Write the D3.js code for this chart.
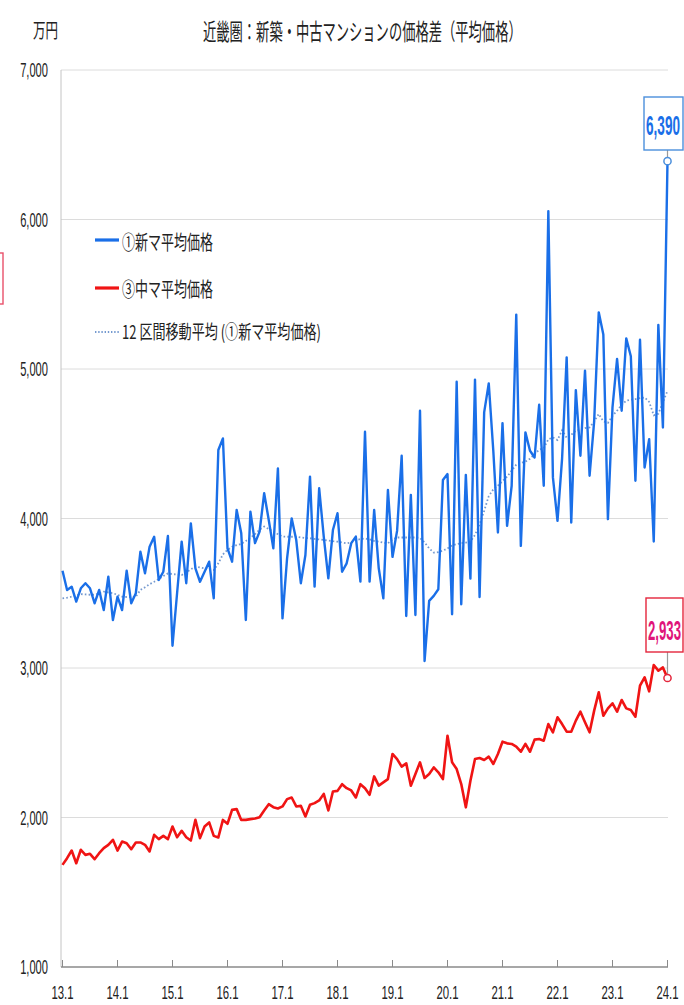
<!DOCTYPE html>
<html lang="ja">
<head>
<meta charset="utf-8">
<script src="https://cdn.jsdelivr.net/npm/d3@7"></script>
<style>
  html, body { margin: 0; padding: 0; background: #ffffff; }
  svg { display: block; }
  text { fill: #222222; }
</style>
</head>
<body>
<svg id="chart" width="684" height="1005"></svg>
<script>
// 近畿圏 新築・中古マンション 月次平均価格（万円）2013年1月〜2024年1月
const newPrice = [
  3651, 3522, 3544, 3444, 3533, 3567, 3533, 3433, 3522, 3388, 3611, 3321,
  3477, 3388, 3651, 3433, 3500, 3778, 3633, 3811, 3878, 3589, 3644, 3883,
  3149, 3500, 3845, 3567, 3967, 3666, 3577, 3644, 3711, 3466, 4458, 4536,
  3800, 3711, 4057, 3901, 3321, 4046, 3835, 3912, 4169, 3990, 3800, 4335,
  3332, 3734, 4001, 3856, 3567, 3756, 4280, 3544, 4202, 3879, 3600, 3923,
  4035, 3644, 3700, 3835, 3879, 3578, 4580, 3578, 4057, 3667, 3466, 4191,
  3743, 3917, 4420, 3348, 4158, 3355, 4721, 3047, 3449, 3482, 3527, 4257,
  4297, 3359, 4915, 3426, 4292, 3598, 4929, 3475, 4710, 4904, 4450, 3906,
  4638, 3951, 4219, 5364, 3817, 4576, 4453, 4408, 4761, 4219, 6056, 4275,
  3984, 4400, 5078, 3973, 4859, 4420, 4989, 4286, 4650, 5379, 5230, 3996,
  4743, 5067, 4721, 5205, 5085, 4252, 5196, 4341, 4531, 3846, 5295, 4609,
  6390
];

const usedPrice = [
  1683, 1728, 1779, 1694, 1784, 1750, 1757, 1721, 1761, 1795, 1817, 1851,
  1779, 1839, 1828, 1788, 1833, 1833, 1817, 1773, 1884, 1855, 1877, 1855,
  1940, 1868, 1911, 1868, 1846, 1984, 1862, 1940, 1967, 1877, 1866, 1984,
  1958, 2051, 2056, 1984, 1984, 1989, 1993, 2002, 2047, 2089, 2069, 2060,
  2074, 2123, 2134, 2074, 2078, 2007, 2085, 2096, 2114, 2158, 2047, 2174,
  2178, 2223, 2196, 2181, 2134, 2223, 2196, 2152, 2275, 2213, 2235, 2257,
  2425, 2391, 2340, 2362, 2213, 2291, 2369, 2264, 2291, 2335, 2302, 2257,
  2547, 2369, 2324, 2224, 2068, 2246, 2391, 2398, 2385, 2407, 2358, 2425,
  2507, 2496, 2492, 2474, 2440, 2492, 2440, 2521, 2525, 2514, 2625, 2570,
  2670, 2625, 2574, 2574, 2648, 2708, 2637, 2570, 2715, 2837, 2681, 2730,
  2764, 2708, 2786, 2730, 2719, 2674, 2882, 2938, 2844, 3020, 2982, 3004,
  2933
];

// 12区間移動平均（①新マ平均価格）
const movingAvg = [
  3466, 3470, 3477, 3485, 3494, 3492, 3490, 3490, 3500, 3511, 3505, 3500,
  3490, 3477, 3475, 3475, 3477, 3522, 3540, 3560, 3577, 3595, 3615, 3633,
  3628, 3625, 3622, 3640, 3660, 3678, 3672, 3666, 3660, 3655, 3700, 3760,
  3790, 3810, 3822, 3830, 3850, 3870, 3895, 3925, 3946, 3930, 3912, 3895,
  3879, 3878, 3878, 3878, 3873, 3870, 3868, 3863, 3860, 3856, 3852, 3848,
  3845, 3840, 3834, 3840, 3856, 3862, 3866, 3860, 3850, 3845, 3838, 3834,
  3860, 3873, 3873, 3873, 3873, 3873, 3870, 3840, 3800, 3772, 3775, 3785,
  3800, 3820, 3828, 3835, 3839, 3845, 3890, 3960, 4051, 4150, 4195, 4220,
  4250, 4280, 4320, 4360, 4372, 4380, 4400, 4430, 4460, 4470, 4530, 4542,
  4525, 4590, 4540, 4560, 4587, 4595, 4605, 4609, 4650, 4699, 4650, 4640,
  4687, 4721, 4760, 4788, 4795, 4799, 4805, 4810, 4780, 4690, 4700, 4777,
  4855
];

const yearLabels = ["13.1", "14.1", "15.1", "16.1", "17.1", "18.1",
                    "19.1", "20.1", "21.1", "22.1", "23.1", "24.1"];
const yTicks = [1000, 2000, 3000, 4000, 5000, 6000, 7000];

const chartTitle = "近畿圏：新築・中古マンションの価格差（平均価格）";
const unitLabel = "万円";
const legendItems = [
  { key: "new",  label: "①新マ平均価格" },
  { key: "used", label: "③中マ平均価格" },
  { key: "ma",   label: "12 区間移動平均 (①新マ平均価格)" }
];

// ---- layout & styles ----
const BLUE = "#1a6fe8";
const RED = "#f01414";
const MA_COL = "#7499cf";
const JP = "'Noto Sans CJK JP', 'Noto Sans', sans-serif";
const NUM = "'Liberation Sans', Arial, sans-serif";

const svg = d3.select("#chart");
const months = newPrice.map((_, i) => i);

const x = d3.scaleLinear().domain([0, months.length - 1]).range([62.5, 667.5]);
const y = d3.scaleLinear().domain([1000, 7000]).range([967, 70]);

// narrow text: squeeze horizontally around the anchor point
function narrowText(g, px, py, str, opt) {
  return g.append("text")
    .attr("transform", `translate(${px},${py}) scale(${opt.k},1)`)
    .attr("text-anchor", opt.anchor || "start")
    .style("font-family", opt.family || NUM)
    .style("font-size", opt.size + "px")
    .style("font-weight", opt.weight || 400)
    .text(str);
}

// text squeezed so that its rendered width equals `width`
function fitText(g, px, py, str, width, opt) {
  const t = g.append("text")
    .attr("text-anchor", opt.anchor || "start")
    .style("font-family", opt.family || JP)
    .style("font-size", opt.size + "px")
    .style("font-weight", opt.weight || 400)
    .text(str);
  if (opt.fill) t.style("fill", opt.fill);
  const natural = t.node().getComputedTextLength() || width;
  t.attr("transform", `translate(${px},${py}) scale(${width / natural},1)`);
  return t;
}

// gridlines
svg.append("g").selectAll("line").data(yTicks.filter(v => v > 1000)).join("line")
  .attr("x1", 61).attr("x2", 668)
  .attr("y1", d => y(d)).attr("y2", d => y(d))
  .attr("stroke", "#dcdcdc").attr("stroke-width", 1);

// y axis line
svg.append("line").attr("x1", 61).attr("x2", 61).attr("y1", y(7000)).attr("y2", y(1000))
  .attr("stroke", "#c4c4c4").attr("stroke-width", 1);

// x axis line with inward ticks
svg.append("line").attr("x1", 61).attr("x2", 668).attr("y1", y(1000)).attr("y2", y(1000))
  .attr("stroke", "#8a8a8a").attr("stroke-width", 1.3);
const tickIdx = yearLabels.map((_, k) => k * 12);
svg.append("g").selectAll("line").data(tickIdx).join("line")
  .attr("x1", d => x(d)).attr("x2", d => x(d))
  .attr("y1", y(1000)).attr("y2", y(1000) - 7)
  .attr("stroke", "#8a8a8a").attr("stroke-width", 1);

// y tick labels
const yLab = svg.append("g");
yTicks.forEach(v => narrowText(yLab, 48, y(v) + 7, d3.format(",")(v), { size: 21, k: 0.53, anchor: "end" }));

// x tick labels
const xLab = svg.append("g");
yearLabels.forEach((t, k) => narrowText(xLab, x(tickIdx[k]), 999, t, { size: 19, k: 0.6, anchor: "middle" }));

// title and unit
fitText(svg, 203, 40, chartTitle, 319, { size: 23 });
fitText(svg, 33, 38, unitLabel, 25, { size: 20 });

// series
const line = d3.line().x((d, i) => x(i)).y(d => y(d)).curve(d3.curveLinear);

svg.append("path").datum(movingAvg).attr("d", line)
  .attr("fill", "none").attr("stroke", MA_COL).attr("stroke-width", 1.8)
  .attr("stroke-dasharray", "1.6,2.2");

svg.append("path").datum(newPrice).attr("d", line)
  .attr("fill", "none").attr("stroke", BLUE).attr("stroke-width", 2.4)
  .attr("stroke-linejoin", "round");

svg.append("path").datum(usedPrice).attr("d", line)
  .attr("fill", "none").attr("stroke", RED).attr("stroke-width", 2.6)
  .attr("stroke-linejoin", "round");

// latest-value callouts
const last = months.length - 1;
function callout(series, color, textColor, box) {
  const px = x(last), py = y(series[last]);
  svg.append("line").attr("x1", px).attr("x2", px).attr("y1", box.y + box.h).attr("y2", py - 3.5)
    .attr("stroke", "#9a9a9a").attr("stroke-width", 1.2);
  svg.append("rect").attr("x", box.x).attr("y", box.y).attr("width", box.w).attr("height", box.h)
    .attr("fill", "#ffffff").attr("stroke", color).attr("stroke-width", 1.4);
  fitText(svg, box.x + 2, box.ty, d3.format(",")(series[last]), box.tw,
    { size: 28, family: NUM, weight: 700, fill: textColor });
  svg.append("circle").attr("cx", px).attr("cy", py).attr("r", 3.6)
    .attr("fill", "#ffffff").attr("stroke", color).attr("stroke-width", 1.5);
}
callout(newPrice, "#4b8fdc", "#1a6fe8", { x: 644, y: 97, w: 39, h: 53, ty: 135, tw: 34 });
callout(usedPrice, "#e4263c", "#e0157a", { x: 646, y: 598, w: 37, h: 54, ty: 640, tw: 33 });

// partially visible label box at the left edge
svg.append("rect").attr("x", -30).attr("y", 253).attr("width", 33).attr("height", 51)
  .attr("fill", "#ffffff").attr("stroke", "#e8506a").attr("stroke-width", 1.4);

// legend
const leg = svg.append("g");
const legY = [240, 288, 332];
const legBase = [250, 297, 339];
legendItems.forEach((it, k) => {
  const s = leg.append("line").attr("x1", 95).attr("x2", 119).attr("y1", legY[k]).attr("y2", legY[k]);
  if (it.key === "new") s.attr("stroke", BLUE).attr("stroke-width", 3.2);
  if (it.key === "used") s.attr("stroke", RED).attr("stroke-width", 3.2);
  if (it.key === "ma") s.attr("stroke", MA_COL).attr("stroke-width", 1.8).attr("stroke-dasharray", "1.4,1.8");
  fitText(leg, 122, legBase[k], it.label, it.key === "ma" ? 199 : 91,
    { size: it.key === "ma" ? 19 : 20 });
});
</script>
</body>
</html>
